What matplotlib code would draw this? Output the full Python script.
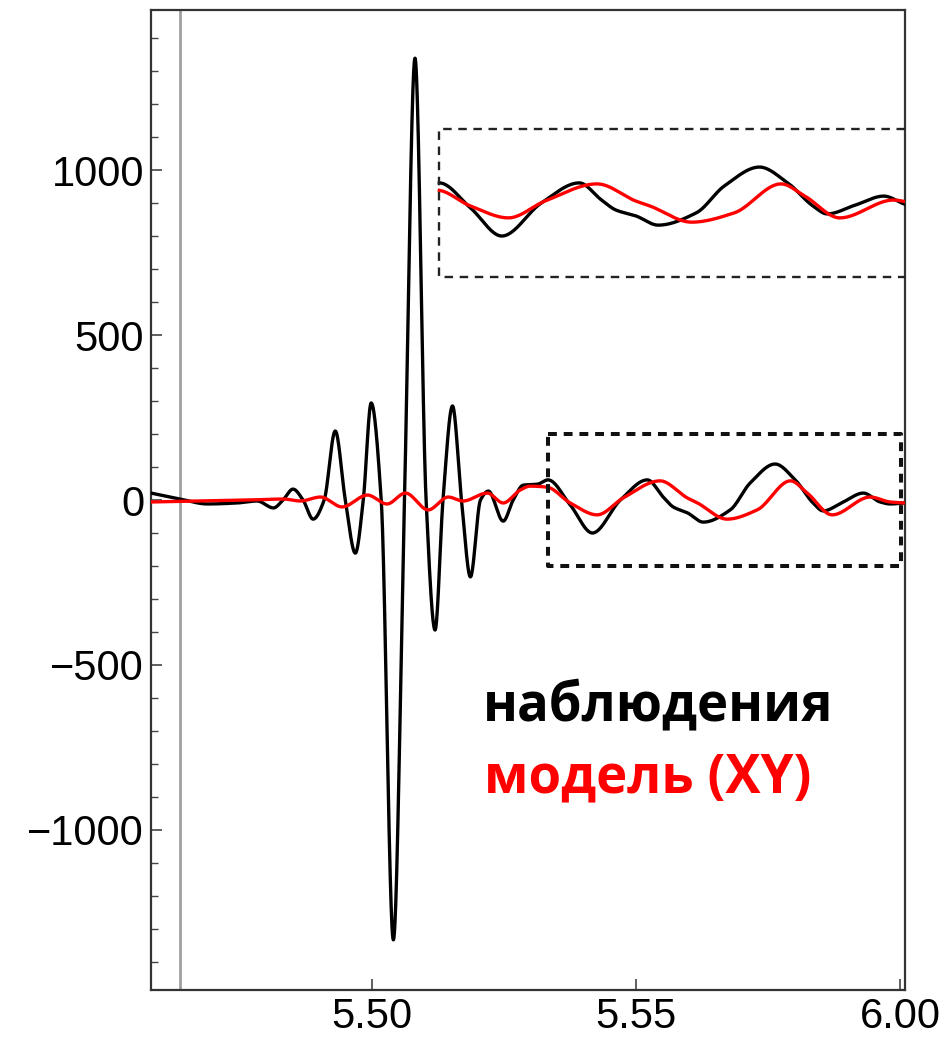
import numpy as np
import matplotlib.pyplot as plt
from matplotlib.ticker import FixedLocator, MultipleLocator

# observed trace (time, amplitude)
obs_t = [5.4581, 5.4636, 5.4688, 5.4744, 5.4782, 5.4813, 5.4831, 5.4850, 5.4869,
         5.4888, 5.4909, 5.4930, 5.4949, 5.4968, 5.4983, 5.4998, 5.5017, 5.5040,
         5.5061, 5.5081, 5.5102, 5.5119, 5.5134, 5.5152, 5.5169, 5.5186, 5.5205,
         5.5220, 5.5248, 5.5267, 5.5286, 5.5313, 5.5333, 5.5375, 5.5417, 5.5470,
         5.5521, 5.5551, 5.5570, 5.5597, 5.5627, 5.5678, 5.5716, 5.5763, 5.5801,
         5.5835, 5.5854, 5.5892, 5.5930, 5.5962, 5.5981, 5.6009]
obs_v = [21, 3, -12, -9, -3, -24, 0, 33, 0,
         -58, 0, 209, 0, -161, 0, 294, 0, -1333,
         0, 1339, 0, -394, 0, 285, 0, -233, 0,
         27, -64, 0, 45, 48, 61, -15, -100, 0,
         61, 9, -21, -39, -67, -30, 52, 109, 61,
         -9, -33, -6, 21, -6, -12, -9]

# model trace (XY)
mod_t = [5.4581, 5.4769, 5.4831, 5.4864, 5.4902, 5.4943, 5.4991, 5.5028, 5.5063,
         5.5106, 5.5144, 5.5172, 5.5218, 5.5248, 5.5280, 5.5299, 5.5331, 5.5375,
         5.5426, 5.5475, 5.5545, 5.5597, 5.5616, 5.5672, 5.5729, 5.5792, 5.5824,
         5.5871, 5.5943, 5.5981, 5.6009]
mod_v = [-6, 0, 3, -3, 9, -21, 15, -12, 21,
         -30, 9, -3, 21, -9, 30, 42, 39, -9,
         -45, 6, 58, 6, -9, -58, -30, 58, 21,
         -45, 9, -6, -9]

xticks = [5.50, 5.55, 5.60]
xticklabels = ['5.50', '5.55', '6.00']
yticks = [-1000, -500, 0, 500, 1000]

marker_t = 5.4636               # grey vertical marker
zoom_box = (5.5333, 5.6002, -200, 200)     # window that gets magnified
inset_box = (5.5127, 5.6009, 675, 1125)    # where the magnified copy goes
inset_stretch = 1.41
inset_shift = 900


def pchip(x, y, n=4000):
    # monotone cubic through the read points, only for a smooth line
    x = np.asarray(x, float)
    y = np.asarray(y, float)
    h = np.diff(x)
    d = np.diff(y) / h
    m = np.zeros_like(y)
    for i in range(1, len(x) - 1):
        if d[i - 1] * d[i] > 0:
            w1 = 2 * h[i] + h[i - 1]
            w2 = h[i] + 2 * h[i - 1]
            m[i] = (w1 + w2) / (w1 / d[i - 1] + w2 / d[i])
    m[0] = d[0]
    m[-1] = d[-1]
    xs = np.linspace(x[0], x[-1], n)
    k = np.clip(np.searchsorted(x, xs) - 1, 0, len(x) - 2)
    t = (xs - x[k]) / h[k]
    h00 = 2 * t**3 - 3 * t**2 + 1
    h10 = t**3 - 2 * t**2 + t
    h01 = -2 * t**3 + 3 * t**2
    h11 = t**3 - t**2
    ys = h00 * y[k] + h10 * h[k] * m[k] + h01 * y[k + 1] + h11 * h[k] * m[k + 1]
    return xs, ys


plt.rcParams['font.family'] = ['Liberation Sans', 'DejaVu Sans']

fig = plt.figure(figsize=(9.47, 10.41), dpi=100)
ax = fig.add_axes([151 / 947, 51 / 1041, 754 / 947, 980 / 1041])

ax.axvline(marker_t, color='#a0a0a0', lw=2.0, zorder=1)

ox, oy = pchip(obs_t, obs_v)
mx, my = pchip(mod_t, mod_v)
ax.plot(ox, oy, color='black', lw=2.4, zorder=3)
ax.plot(mx, my, color='#ff0000', lw=2.4, zorder=4)

# magnified copy of the tail, stretched in time and lifted by 900
x0, x1, y0, y1 = zoom_box
for xs, ys, c, z in [(ox, oy, 'black', 3), (mx, my, '#ff0000', 4)]:
    sel = xs >= x0
    ax.plot(inset_box[0] + (xs[sel] - x0) * inset_stretch, ys[sel] + inset_shift,
            color=c, lw=2.4, zorder=z)

ax.plot([x0, x1, x1, x0, x0], [y1, y1, y0, y0, y1], color='#111111', lw=2.9,
        linestyle=(0, (2.2, 1.7)), zorder=5)
ix0, ix1, iy0, iy1 = inset_box
ax.plot([ix1, ix0, ix0, ix1], [iy1, iy1, iy0, iy0], color='#222222', lw=1.7,
        linestyle=(0, (3.6, 2.8)), zorder=5, clip_on=False)

ax.set_xlim(5.4581, 5.6009)
ax.set_ylim(-1485, 1485)

ax.xaxis.set_major_locator(FixedLocator(xticks))
ax.set_xticklabels(xticklabels)
ax.yaxis.set_major_locator(FixedLocator(yticks))
ax.yaxis.set_minor_locator(MultipleLocator(100))
ax.tick_params(axis='both', which='major', direction='in', length=8, width=1.2,
               labelsize=30, color='#444444', pad=5)
ax.tick_params(axis='y', which='minor', direction='in', length=5, width=1.0,
               color='#444444')
ax.tick_params(top=False, right=False)
for s in ax.spines.values():
    s.set_color('#333333')
    s.set_linewidth(1.6)

bold = dict(family=['Open Sans', 'DejaVu Sans'], fontweight='bold', fontsize=38,
            ha='left', va='baseline')
fig.text(483 / 947, 1 - 720 / 1041, 'наблюдения', color='black', **bold)
fig.text(484 / 947, 1 - 792 / 1041, 'модель (XY)', color='#ff0000', **bold)

fig.savefig('out.png', dpi=100)
